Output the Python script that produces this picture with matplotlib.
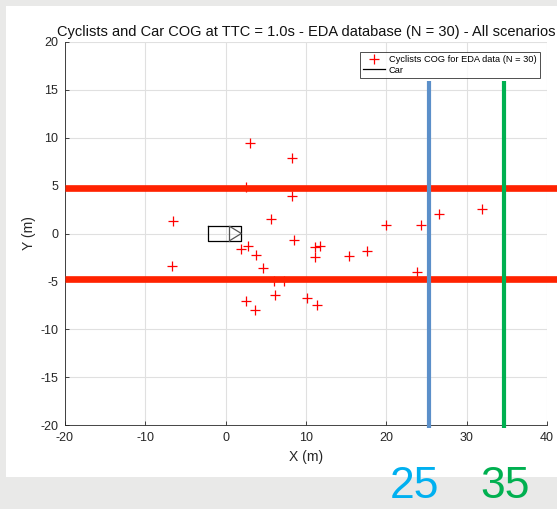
import matplotlib as mpl
mpl.use('Agg')
import matplotlib.pyplot as plt

# Cyclist COG positions (m)
cyclist_x = [3.0, 8.3, 2.5, 8.2, 5.7, 8.5, 1.9, 2.8, 3.8, 4.6,
             11.1, 11.8, 11.1, 6.0, 7.3, 6.2, 2.5, 3.6, 10.1, 11.4,
             20.0, 24.3, 26.5, 15.3, 17.6, 23.8, 31.9, -6.6, -6.7]
cyclist_y = [9.5, 7.85, 4.9, 3.95, 1.5, -0.7, -1.65, -1.3, -2.25, -3.6,
             -1.45, -1.35, -2.5, -5.0, -5.0, -6.4, -7.0, -8.0, -6.75, -7.5,
             0.9, 0.9, 2.0, -2.3, -1.8, -4.0, 2.6, 1.35, -3.4]

# Car outline (m)
car_box_x = [-2.2, 1.95, 1.95, -2.2, -2.2]
car_box_y = [0.82, 0.82, -0.82, -0.82, 0.82]
car_div_x = [0.4, 0.4]
car_div_y = [0.82, -0.82]
car_tri_x = [0.55, 1.95, 0.55]
car_tri_y = [0.72, 0.0, -0.72]

# hand-drawn marks on top of the figure
lane_y = [4.75, -4.75]
dist_x = [25.3, 34.7]
dist_labels = ['25', '35']
dist_colors = ['#5b8fc9', '#00b050']
label_colors = ['#00b0f0', '#00b050']

plt.rcParams['font.family'] = ['Liberation Sans', 'DejaVu Sans']
plt.rcParams['axes.unicode_minus'] = False

fig = plt.figure(figsize=(5.57, 5.09), dpi=100)
fig.patch.set_facecolor('#e9e9e8')

# white panel behind the plot
bg = fig.add_axes([6 / 557, 1 - 477 / 509, 1.0, (477 - 6) / 509], zorder=0)
bg.set_axis_off()
bg.add_patch(plt.Rectangle((0, 0), 1, 1, transform=bg.transAxes,
                           facecolor='white', edgecolor='none'))

ax = fig.add_axes([65 / 557, 1 - 425 / 509, 482 / 557, 383 / 509], zorder=1)
ax.set_facecolor('white')

ax.plot(cyclist_x, cyclist_y, '+', color='red', markersize=6.5, mew=0.9,
        label='Cyclists COG for EDA data (N = 30)', zorder=3)
ax.plot(car_box_x, car_box_y, color='black', lw=0.9, label='Car', zorder=3)
ax.plot(car_div_x, car_div_y, color='#555555', lw=0.9, zorder=3)
ax.plot(car_tri_x, car_tri_y, color='#555555', lw=0.9, zorder=3)

ax.set_xlim(-20, 40)
ax.set_ylim(-20, 20)
ax.set_xticks(range(-20, 41, 10))
ax.set_yticks(range(-20, 21, 5))
ax.grid(True, color='#e0e0e0', lw=0.8)
ax.set_axisbelow(True)
for s in ['top', 'right']:
    ax.spines[s].set_visible(False)
for s in ['left', 'bottom']:
    ax.spines[s].set_color('#262626')
    ax.spines[s].set_linewidth(0.6)
ax.tick_params(direction='in', length=3, width=0.6, labelsize=9,
               colors='#262626')
ax.tick_params(axis='x', pad=5)
ax.tick_params(axis='y', pad=5)
ax.set_xlabel('X (m)', fontsize=10, color='#262626', labelpad=4)
ax.set_ylabel('Y (m)', fontsize=10, color='#262626', labelpad=3)
ax.set_title('Cyclists and Car COG at TTC = 1.0s - EDA database (N = 30) - All scenarios',
             fontsize=10.5, color='#111111', pad=4)

leg = ax.legend(loc='upper right', bbox_to_anchor=(0.985, 0.975), fontsize=6.7,
                frameon=True, fancybox=False, edgecolor='#222222',
                borderpad=0.35, handlelength=2.4, handletextpad=0.4,
                labelspacing=0.2, borderaxespad=0)
leg.get_frame().set_linewidth(0.7)

for y in lane_y:
    ax.plot([-20, 45], [y, y], color='#ff2200', lw=4.8, clip_on=False,
            solid_capstyle='butt', zorder=4)
for x, c in zip(dist_x, dist_colors):
    ax.plot([x, x], [-20.3, 15.9], color=c, lw=3, clip_on=False,
            solid_capstyle='butt', zorder=4)

label_px = [414, 505]
for px, t, c in zip(label_px, dist_labels, label_colors):
    fig.text(px / 557, 1 - 507.5 / 509, t, color=c, fontsize=32,
             ha='center', va='bottom', zorder=5)

fig.savefig('out.png', dpi=100, facecolor=fig.get_facecolor())
